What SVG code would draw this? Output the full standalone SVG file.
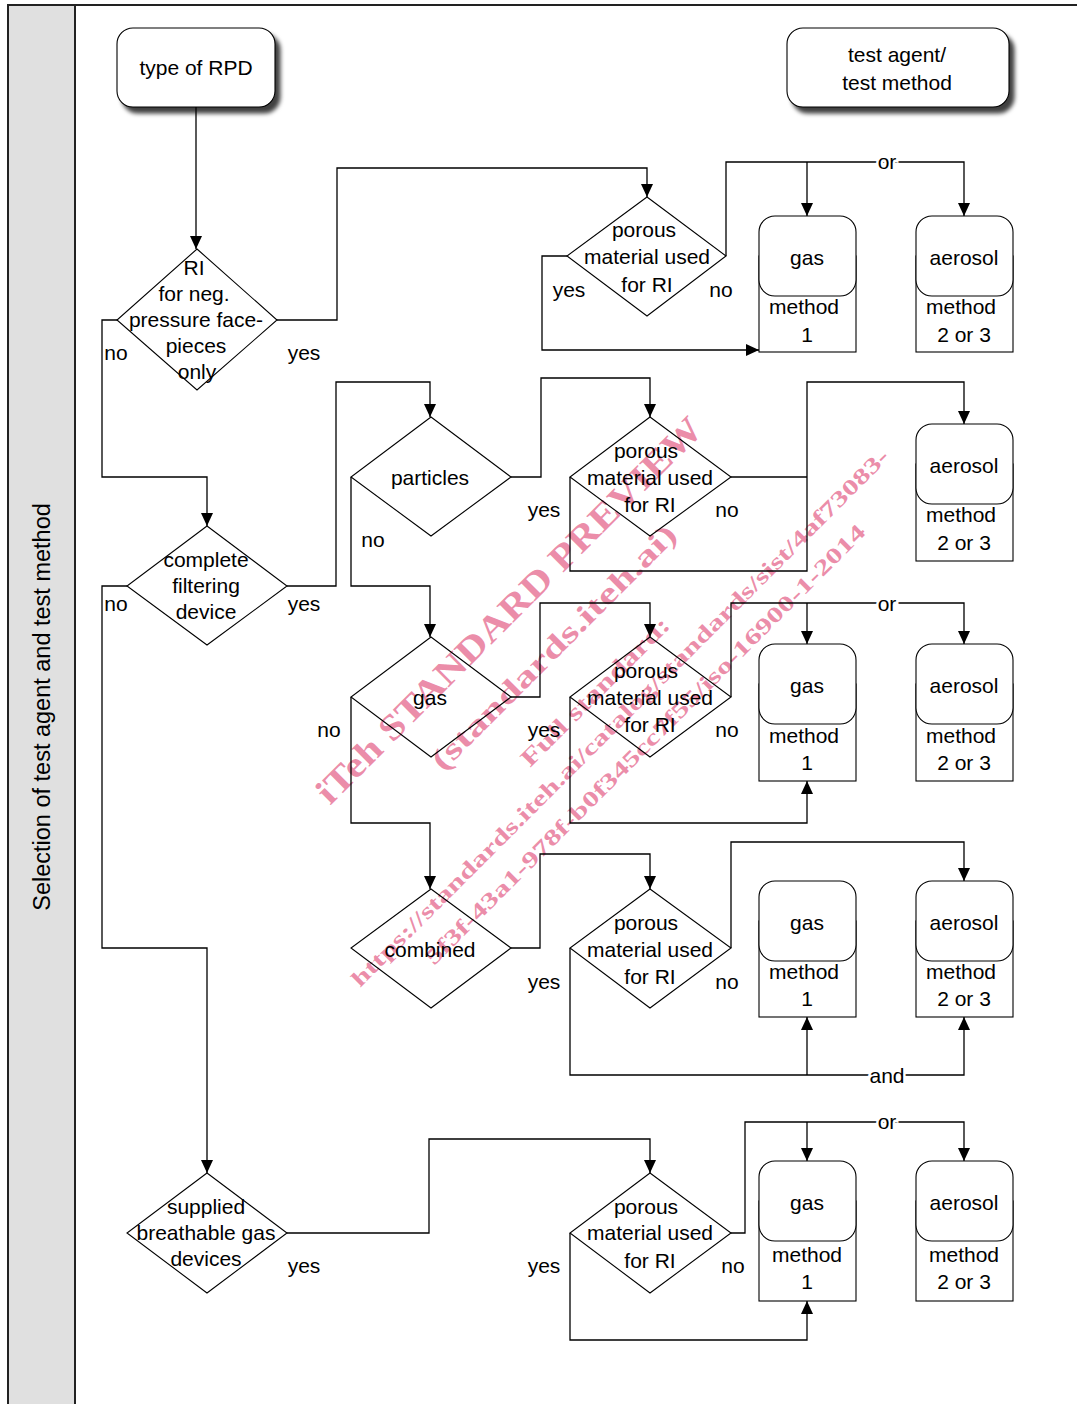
<svg xmlns="http://www.w3.org/2000/svg" width="1077" height="1404" viewBox="0 0 1077 1404">
<defs>
<marker id="ah" markerUnits="userSpaceOnUse" markerWidth="14" markerHeight="14" viewBox="0 0 14 14" refX="13" refY="7" orient="auto">
<path d="M0,1 L13,7 L0,13 Z" fill="#000"/>
</marker>
<filter id="sh" x="-10%" y="-10%" width="130%" height="140%">
<feDropShadow dx="5" dy="6" stdDeviation="2" flood-color="#000" flood-opacity="0.75"/>
</filter>
<style>
text{font-family:"Liberation Sans",Arial,sans-serif;font-size:21px;fill:#000;text-anchor:middle}
.c{fill:none;stroke:#000;stroke-width:1.3}
.ca{fill:none;stroke:#000;stroke-width:1.3;marker-end:url(#ah)}
.d{fill:none;stroke:#000;stroke-width:1.1}
.r{fill:#fff;stroke:#000;stroke-width:1.1}
.lbl{paint-order:stroke;stroke:#fff;stroke-width:5}
.wm{font-family:"Liberation Serif","Times New Roman",serif;font-weight:bold;fill:#e8789a;fill-opacity:0.85;text-anchor:start}
</style>
</defs>
<rect x="0" y="0" width="1077" height="1404" fill="#fff"/>
<g id="frame">
<rect x="8" y="5" width="67" height="1399" fill="#e0e0e0"/>
<path d="M8,1404 V5 H1077 M75,5 V1404" fill="none" stroke="#222" stroke-width="2"/>
<text transform="translate(50,707) rotate(-90)" style="font-size:23.5px">Selection of test agent and test method</text>
</g>

<g id="watermark">
<text class="wm" transform="translate(330,806) rotate(-45)" style="font-size:36px" textLength="530" lengthAdjust="spacingAndGlyphs">iTeh STANDARD PREVIEW</text>
<text class="wm" transform="translate(443,772) rotate(-45)" style="font-size:30px" textLength="333" lengthAdjust="spacingAndGlyphs">(standards.iteh.ai)</text>
<text class="wm" transform="translate(530,768) rotate(-45)" style="font-size:24px" textLength="200" lengthAdjust="spacingAndGlyphs">Full standard:</text>
<text class="wm" transform="translate(360,988) rotate(-45)" style="font-size:22px" textLength="750" lengthAdjust="spacingAndGlyphs">https://standards.iteh.ai/catalog/standards/sist/4af73083-</text>
<text class="wm" transform="translate(434,966) rotate(-45)" style="font-size:22px" textLength="612" lengthAdjust="spacingAndGlyphs">5f3f-43a1-978f-b0f345cc7f55/iso-16900-1-2014</text>
</g>

<g id="connectors">
<path class="ca" d="M196,107 V249"/>
<path class="ca" d="M117,320 H102 V477 H207 V526"/>
<path class="ca" d="M277,320 H337 V168 H647 V197"/>
<path class="ca" d="M567,256 H542 V350 H759"/>
<path class="ca" d="M726,256 V162 H964 V216"/>
<path class="ca" d="M807,162 V216"/>
<path class="ca" d="M127,586 H102 V948 H207 V1173"/>
<path class="ca" d="M287,586 H336 V382 H430 V417"/>
<path class="ca" d="M511,477 H541 V378 H650 V417"/>
<path class="ca" d="M351,477 V586 H430 V637"/>
<path class="ca" d="M570,477 V571 H807 V382 H964 V424"/>
<path class="c" d="M731,477 H807"/>
<path class="ca" d="M511,697 H540 V603 H650 V637"/>
<path class="ca" d="M351,697 V823 H430 V889"/>
<path class="ca" d="M570,697 V823 H807 V781"/>
<path class="ca" d="M731,697 V603 H964 V644"/>
<path class="ca" d="M807,603 V644"/>
<path class="ca" d="M511,948 H540 V854 H650 V889"/>
<path class="ca" d="M570,948 V1075 H964 V1017"/>
<path class="ca" d="M807,1075 V1017"/>
<path class="ca" d="M731,948 V842 H964 V881"/>
<path class="ca" d="M287,1233 H429 V1139 H650 V1173"/>
<path class="ca" d="M570,1233 V1340 H807 V1301"/>
<path class="ca" d="M731,1233 H745 V1122 H964 V1161"/>
<path class="ca" d="M807,1122 V1161"/>
</g>

<g id="conn-labels">
<text class="lbl" x="887" y="169">or</text>
<text class="lbl" x="887" y="611">or</text>
<text class="lbl" x="887" y="1083">and</text>
<text class="lbl" x="887" y="1129">or</text>
<text x="116" y="360">no</text>
<text x="304" y="360">yes</text>
<text x="569" y="297">yes</text>
<text x="721" y="297">no</text>
<text x="373" y="547">no</text>
<text x="544" y="517">yes</text>
<text x="727" y="517">no</text>
<text x="116" y="611">no</text>
<text x="304" y="611">yes</text>
<text x="329" y="737">no</text>
<text x="544" y="737">yes</text>
<text x="727" y="737">no</text>
<text x="544" y="989">yes</text>
<text x="727" y="989">no</text>
<text x="304" y="1273">yes</text>
<text x="544" y="1273">yes</text>
<text x="733" y="1273">no</text>
</g>

<g id="start">
<rect x="117" y="28" width="158" height="79" rx="16" class="r" filter="url(#sh)"/>
<text x="196" y="75">type of RPD</text>
</g>
<g id="legend">
<rect x="787" y="28" width="222" height="79" rx="16" class="r" filter="url(#sh)"/>
<text x="897" y="62">test agent/</text>
<text x="897" y="90">test method</text>
</g>

<g id="d-ri">
<path class="d" d="M197,249 L277,320 L197,390 L117,320 Z"/>
<text x="194" y="275">RI</text>
<text x="194" y="301">for neg.</text>
<text x="196" y="327">pressure face-</text>
<text x="196" y="353">pieces</text>
<text x="197" y="379">only</text>
</g>
<g id="d-porous1">
<path class="d" d="M647,197 L726,256 L647,316 L567,256 Z"/>
<text x="644" y="237">porous</text>
<text x="647" y="264">material used</text>
<text x="647" y="292">for RI</text>
</g>
<g id="d-complete">
<path class="d" d="M207,526 L287,586 L207,645 L127,586 Z"/>
<text x="206" y="567">complete</text>
<text x="206" y="593">filtering</text>
<text x="206" y="619">device</text>
</g>
<g id="d-particles">
<path class="d" d="M431,417 L511,477 L431,536 L351,477 Z"/>
<text x="430" y="485">particles</text>
</g>
<g id="d-porous2">
<path class="d" d="M650,417 L731,477 L650,536 L570,477 Z"/>
<text x="646" y="458">porous</text>
<text x="650" y="485">material used</text>
<text x="650" y="512">for RI</text>
</g>
<g id="d-gas">
<path class="d" d="M431,637 L511,697 L431,757 L351,697 Z"/>
<text x="430" y="705">gas</text>
</g>
<g id="d-porous3">
<path class="d" d="M650,637 L731,697 L650,757 L570,697 Z"/>
<text x="646" y="678">porous</text>
<text x="650" y="705">material used</text>
<text x="650" y="732">for RI</text>
</g>
<g id="d-combined">
<path class="d" d="M431,889 L511,948 L431,1008 L351,948 Z"/>
<text x="430" y="957">combined</text>
</g>
<g id="d-porous4">
<path class="d" d="M650,889 L731,948 L650,1008 L570,948 Z"/>
<text x="646" y="930">porous</text>
<text x="650" y="957">material used</text>
<text x="650" y="984">for RI</text>
</g>
<g id="d-supplied">
<path class="d" d="M207,1173 L287,1233 L207,1293 L127,1233 Z"/>
<text x="206" y="1214">supplied</text>
<text x="206" y="1240">breathable gas</text>
<text x="206" y="1266">devices</text>
</g>
<g id="d-porous5">
<path class="d" d="M650,1173 L731,1233 L650,1293 L570,1233 Z"/>
<text x="646" y="1214">porous</text>
<text x="650" y="1240">material used</text>
<text x="650" y="1268">for RI</text>
</g>

<g id="gas1">
<rect class="r" x="759" y="256" width="97" height="96"/>
<rect class="r" x="759" y="216" width="97" height="80" rx="16"/>
<text x="807" y="265">gas</text><text x="804" y="314">method</text><text x="807" y="342">1</text>
</g>
<g id="aerosol1">
<rect class="r" x="916" y="256" width="97" height="96"/>
<rect class="r" x="916" y="216" width="97" height="80" rx="16"/>
<text x="964" y="265">aerosol</text><text x="961" y="314">method</text><text x="964" y="342">2 or 3</text>
</g>
<g id="aerosol2">
<rect class="r" x="916" y="464" width="97" height="97"/>
<rect class="r" x="916" y="424" width="97" height="80" rx="16"/>
<text x="964" y="473">aerosol</text><text x="961" y="522">method</text><text x="964" y="550">2 or 3</text>
</g>
<g id="gas3">
<rect class="r" x="759" y="684" width="97" height="97"/>
<rect class="r" x="759" y="644" width="97" height="80" rx="16"/>
<text x="807" y="693">gas</text><text x="804" y="743">method</text><text x="807" y="770">1</text>
</g>
<g id="aerosol3">
<rect class="r" x="916" y="684" width="97" height="97"/>
<rect class="r" x="916" y="644" width="97" height="80" rx="16"/>
<text x="964" y="693">aerosol</text><text x="961" y="743">method</text><text x="964" y="770">2 or 3</text>
</g>
<g id="gas4">
<rect class="r" x="759" y="921" width="97" height="96"/>
<rect class="r" x="759" y="881" width="97" height="80" rx="16"/>
<text x="807" y="930">gas</text><text x="804" y="979">method</text><text x="807" y="1006">1</text>
</g>
<g id="aerosol4">
<rect class="r" x="916" y="921" width="97" height="96"/>
<rect class="r" x="916" y="881" width="97" height="80" rx="16"/>
<text x="964" y="930">aerosol</text><text x="961" y="979">method</text><text x="964" y="1006">2 or 3</text>
</g>
<g id="gas5">
<rect class="r" x="759" y="1201" width="97" height="100"/>
<rect class="r" x="759" y="1161" width="97" height="80" rx="16"/>
<text x="807" y="1210">gas</text><text x="807" y="1262">method</text><text x="807" y="1289">1</text>
</g>
<g id="aerosol5">
<rect class="r" x="916" y="1201" width="97" height="100"/>
<rect class="r" x="916" y="1161" width="97" height="80" rx="16"/>
<text x="964" y="1210">aerosol</text><text x="964" y="1262">method</text><text x="964" y="1289">2 or 3</text>
</g>
</svg>
